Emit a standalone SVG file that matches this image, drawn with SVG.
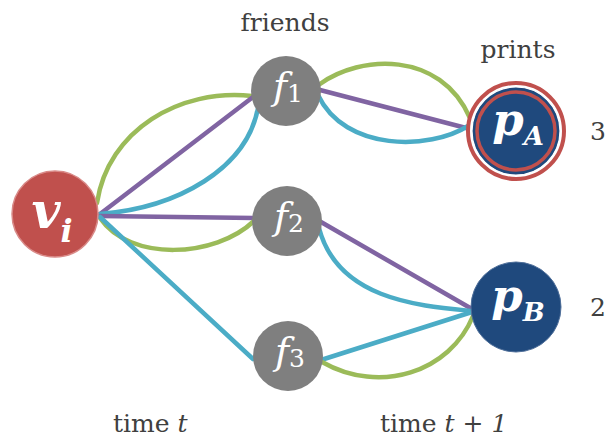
<svg xmlns="http://www.w3.org/2000/svg" width="608" height="438" viewBox="0 0 608 438">
<style>
.e{fill:none;stroke-width:4.5;stroke-linecap:round}
.g{stroke:#9bbb59}.p{stroke:#8064a2}.c{stroke:#4bacc6}
.lbl{font-family:"DejaVu Serif","Liberation Serif",serif;font-size:25px;fill:#404040}
.m{font-family:"DejaVu Serif","Liberation Serif",serif;fill:#fff;font-style:italic}
.fn{fill:#7f7f7f}
.pn{fill:#1f497d}
</style>
<rect width="608" height="438" fill="#fff"/>
<g id="connectors">
<path class="e g" d="M97,203 C108,130 180,88 252,96"/>
<path class="e p" d="M100,214 L253,97"/>
<path class="e c" d="M100,214 C175,208 250,170 259,102"/>
<path class="e p" d="M100,216 L254,218"/>
<path class="e g" d="M100,218 C130,262 215,258 254,221"/>
<path class="e c" d="M100,217 L253,359"/>
<path class="e g" d="M320,84 C360,55 440,50 470,118"/>
<path class="e p" d="M320,90 L470,129"/>
<path class="e c" d="M318,95 C345,152 430,150 468,126"/>
<path class="e p" d="M321,222 L472,309"/>
<path class="e c" d="M319,228 C338,300 420,306 472,311"/>
<path class="e c" d="M321,360 L472,312"/>
<path class="e g" d="M322,362 C380,395 450,372 473,316"/>
</g>
<g id="v_i">
<circle cx="55" cy="214" r="43" fill="#c0504d" stroke="#d98a88" stroke-width="1.5"/>
<text class="m" x="52" y="228" text-anchor="middle" font-weight="bold"><tspan font-size="50">v</tspan><tspan font-size="32" dy="14">i</tspan></text>
</g>
<g id="f1">
<circle class="fn" cx="286" cy="91" r="35"/>
<text class="m" x="288" y="99" text-anchor="middle"><tspan font-size="38">f</tspan><tspan font-size="25" font-style="normal" dy="3">1</tspan></text>
</g>
<g id="f2">
<circle class="fn" cx="287" cy="221" r="35"/>
<text class="m" x="289" y="229" text-anchor="middle"><tspan font-size="38">f</tspan><tspan font-size="25" font-style="normal" dy="3">2</tspan></text>
</g>
<g id="f3">
<circle class="fn" cx="288" cy="356" r="35"/>
<text class="m" x="290" y="364" text-anchor="middle"><tspan font-size="38">f</tspan><tspan font-size="25" font-style="normal" dy="3">3</tspan></text>
</g>
<g id="p_A">
<circle cx="516" cy="131" r="48" fill="#fff" stroke="#c0504d" stroke-width="4"/>
<circle class="pn" cx="516" cy="131" r="44" stroke="#fff" stroke-width="1.2"/>
<circle cx="516" cy="131" r="39" fill="none" stroke="#c0504d" stroke-width="3.5"/>
<text class="m" x="518" y="135" text-anchor="middle" font-weight="bold"><tspan font-size="45">p</tspan><tspan font-size="26" dy="10">A</tspan></text>
</g>
<g id="p_B">
<circle class="pn" cx="516" cy="307" r="45" stroke="#4f6f9a" stroke-width="1"/>
<text class="m" x="518" y="311" text-anchor="middle" font-weight="bold"><tspan font-size="45">p</tspan><tspan font-size="26" dy="10">B</tspan></text>
</g>
<g id="labels">
<text class="lbl" x="285" y="31" text-anchor="middle">friends</text>
<text class="lbl" x="518" y="58" text-anchor="middle">prints</text>
<text class="lbl" x="598" y="140" text-anchor="middle">3</text>
<text class="lbl" x="598" y="316" text-anchor="middle">2</text>
<text class="lbl" x="113" y="432">time <tspan font-style="italic">t</tspan></text>
<text class="lbl" x="380" y="432">time <tspan font-style="italic">t</tspan> + <tspan font-style="italic">1</tspan></text>
</g>
</svg>
